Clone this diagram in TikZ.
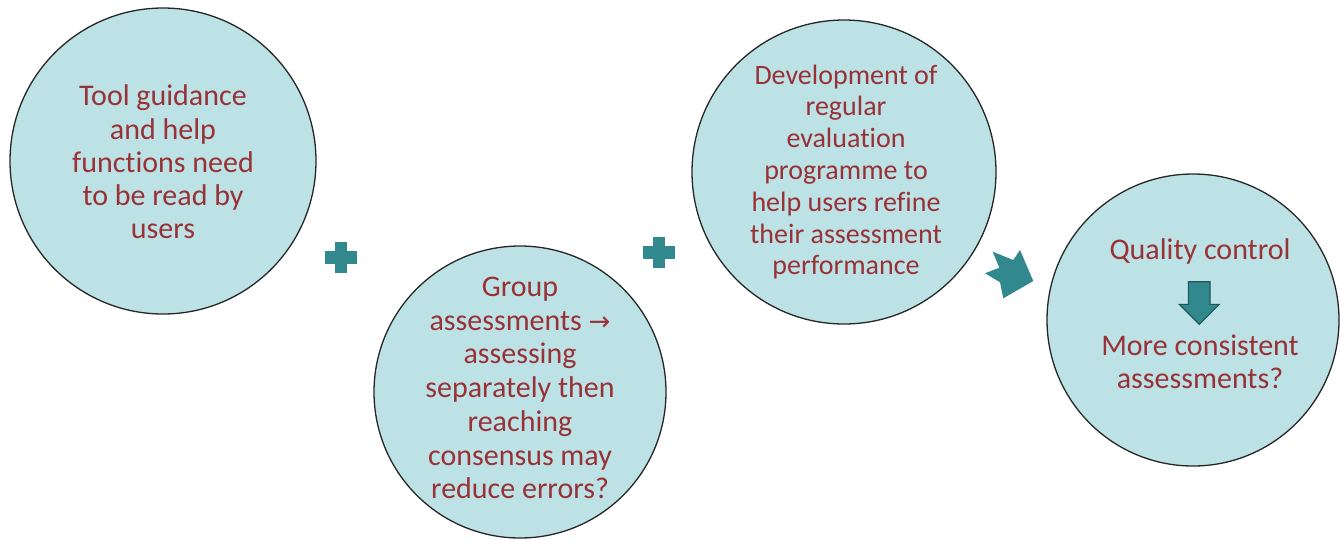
\documentclass[tikz,border=0pt]{standalone}
\usepackage{fontspec}
\setmainfont[Ligatures={NoCommon}]{Carlito}
\newfontfamily\arrowfont{DejaVu Sans}
\definecolor{circfill}{HTML}{BDE2E6}
\definecolor{txtred}{HTML}{983236}
\definecolor{teal}{HTML}{31898D}
\definecolor{tealdark}{HTML}{1F5558}
\begin{document}
\begin{tikzpicture}[x=1pt,y=-1pt,
  bubble/.style={circle,draw=black!85,line width=1.3pt,fill=circfill,inner sep=0pt},
  btext/.style={align=center,text=txtred,inner sep=0pt,font=\fontsize{30}{33.3}\selectfont},
  tealshape/.style={fill=teal,draw=none}]
\useasboundingbox (0,0) rectangle (1340,539);
% circles
\node[bubble,minimum size=306pt] (c1) at (163,161) {};
\node[bubble,minimum size=292pt] (c2) at (520,392) {};
\node[bubble,minimum size=304pt] (c3) at (844,172) {};
\node[bubble,minimum size=292pt] (c4) at (1193,320) {};
% texts
\node[btext] (t1) at (163,162) {Tool guidance\\and help\\functions need\\to be read by\\users};
\node[btext,font=\fontsize{30}{33.7}\selectfont] (t2) at (520,388) {Group\\assessments {\arrowfont\fontsize{26}{33}\selectfont →}\\assessing\\separately then\\reaching\\consensus may\\reduce errors?};
\node[btext,font=\fontsize{28}{31.8}\selectfont] (t3) at (846,172) {Development of\\regular\\evaluation\\programme to\\help users refine\\their assessment\\performance};
\node[btext] (q1) at (1200,251) {Quality control};
\node[btext] (q2) at (1200,362) {More consistent\\assessments?};
% plus signs
\coordinate (p1) at (341,257.5);
\coordinate (p2) at (659,252.5);
\foreach \p in {p1,p2}{
  \fill[tealshape] ([xshift=-15.7pt,yshift=6.2pt]\p) rectangle ([xshift=15.7pt,yshift=-6.2pt]\p);
  \fill[tealshape] ([xshift=-5.9pt,yshift=15.7pt]\p) rectangle ([xshift=5.9pt,yshift=-15.7pt]\p);
}
% notched arrow between circles 3 and 4
\fill[tealshape] (992.7,251.7) -- (1013.3,260) -- (1020,250) -- (1033.3,281)
  -- (1003.3,298.3) -- (1000,282.3) -- (985,273.3) -- (999.3,267.7) -- cycle;
% down arrow inside circle 4
\draw[fill=teal,draw=tealdark,line width=1.1pt,line join=miter]
  (1188.3,281.7) -- (1210,281.7) -- (1210,304.3) -- (1219.3,304.3) -- (1199.3,324.3)
  -- (1179.3,304.3) -- (1188.3,304.3) -- cycle;
\end{tikzpicture}
\end{document}
